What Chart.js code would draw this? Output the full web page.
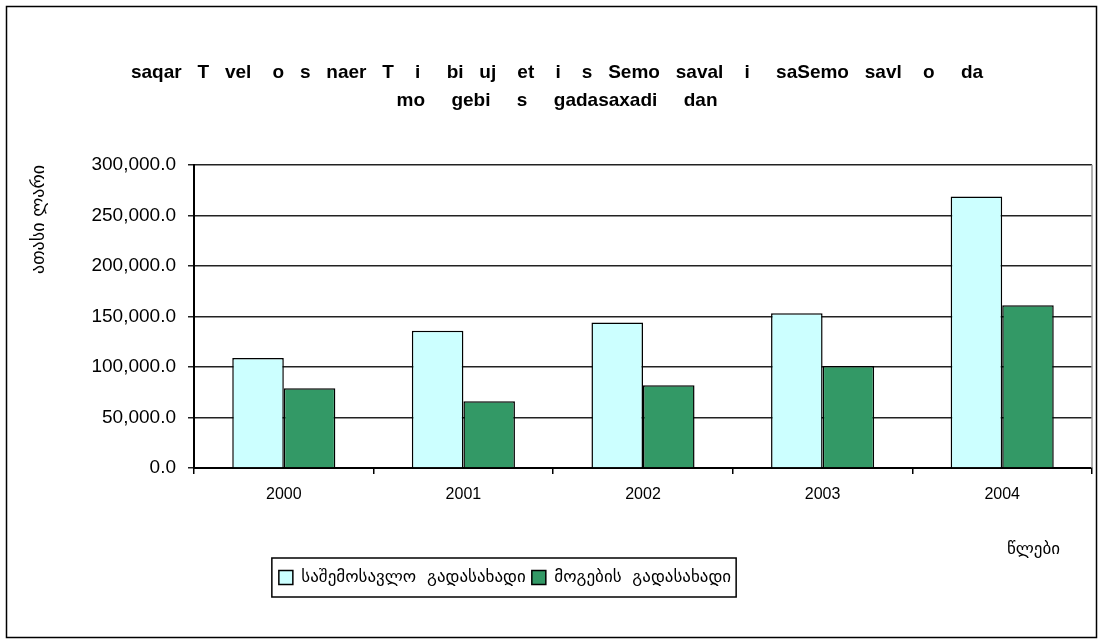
<!DOCTYPE html>
<html>
<head>
<meta charset="utf-8">
<script src="https://cdn.jsdelivr.net/npm/chart.js@4.4.0/dist/chart.umd.min.js"></script>
<style>
  html, body { margin: 0; padding: 0; background: #fff; }
  #wrap { width: 1103px; height: 644px; position: relative; }
</style>
</head>
<body>
<div id="wrap"><canvas id="chart"></canvas></div>
<script>
// ======= DATA =======
const YEARS = ["2000", "2001", "2002", "2003", "2004"];
const INCOME_TAX = [108800, 135900, 144000, 153200, 268800];   // saSemosavlo gadasaxadi
const PROFIT_TAX = [79000, 66000, 82000, 101000, 161000];      // mogebis gadasaxadi
const SERIES_NAMES = ["საშემოსავლო  გადასახადი", "მოგების  გადასახადი"];
const TITLE_LINES = [
  "saqar   T   vel    o   s   naer   T    i     bi   uj    et    i    s   Semo   saval    i     saSemo   savl    o     da",
  "mo     gebi     s     gadasaxadi     dan"
];
const Y_TITLE = "ათასი ლარი";
const X_TITLE = "წლები";

const GEO_FONT = "'DejaVu Sans', sans-serif";
const LAT_FONT = "'Liberation Sans', Arial, sans-serif";

// ======= DECOR: bg, outer frame, plot right edge, legend frame, x title =======
const decor = {
  id: "decor",
  beforeDraw(chart){
    const c = chart.ctx;
    c.save();
    c.fillStyle = "#fff";
    c.fillRect(0, 0, chart.width, chart.height);
    c.restore();
  },
  afterLayout(chart){
    // legend sits a bit left of centre in the original
    const lg = chart.legend;
    lg.left -= 52; lg.right -= 52;
  },
  afterDraw(chart){
    const c = chart.ctx, a = chart.chartArea;
    c.save();
    c.strokeStyle = "#000"; c.lineWidth = 1.5;
    c.strokeRect(6.5, 6.5, chart.width - 13, chart.height - 13);
    c.strokeStyle = "#999"; c.lineWidth = 1.5;
    c.beginPath(); c.moveTo(a.right, a.top); c.lineTo(a.right, a.bottom); c.stroke();
    const boxes = chart.legend.legendHitBoxes;
    if(boxes && boxes.length){
      let l = Infinity, r = -Infinity, t = Infinity, b = -Infinity;
      boxes.forEach(h => { l = Math.min(l, h.left); r = Math.max(r, h.left + h.width); t = Math.min(t, h.top); b = Math.max(b, h.top + h.height); });
      c.strokeStyle = "#000"; c.lineWidth = 1.5;
      c.strokeRect(l - 7, t - 11, r - l + 12, b - t + 22);
    }
    c.fillStyle = "#000";
    c.font = "17px " + GEO_FONT;
    c.textAlign = "right"; c.textBaseline = "middle";
    c.fillText(X_TITLE, a.right - 32, a.bottom + 82);
    c.restore();
  }
};

new Chart(document.getElementById("chart"), {
  type: "bar",
  data: {
    labels: YEARS,
    datasets: [
      { label: SERIES_NAMES[0], data: INCOME_TAX, backgroundColor: "#CCFFFF", borderColor: "#000", borderWidth: 1.5 },
      { label: SERIES_NAMES[1], data: PROFIT_TAX, backgroundColor: "#339966", borderColor: "#000", borderWidth: 1.5 }
    ]
  },
  options: {
    responsive: true,
    maintainAspectRatio: false,
    animation: false,
    datasets: { bar: { categoryPercentage: 0.574, barPercentage: 1.0 } },
    layout: { padding: { left: 22, right: 11, top: 6, bottom: 48 } },
    plugins: {
      tooltip: { enabled: false },
      title: {
        display: true,
        text: TITLE_LINES,
        color: "#000",
        font: { family: LAT_FONT, size: 19, weight: "bold", lineHeight: 1.47 },
        padding: { top: 53, bottom: 50 }
      },
      legend: {
        position: "bottom",
        labels: {
          color: "#000",
          font: { family: GEO_FONT, size: 17 },
          boxWidth: 14, boxHeight: 14,
          padding: 6
        }
      }
    },
    scales: {
      x: {
        grid: { drawOnChartArea: false, drawTicks: true, tickLength: 6, color: "#000", lineWidth: 1.5 },
        border: { color: "#000", width: 2 },
        ticks: { color: "#000", font: { family: LAT_FONT, size: 16 }, padding: 11 },
        afterFit(s){ s.height = 95; }
      },
      y: {
        min: 0, max: 300000,
        ticks: {
          stepSize: 50000,
          color: "#000",
          font: { family: LAT_FONT, size: 19 },
          padding: 12,
          callback: v => v.toLocaleString("en-US", { minimumFractionDigits: 1, maximumFractionDigits: 1 })
        },
        grid: { color: "#222", lineWidth: 1.5, tickLength: 6 },
        border: { color: "#000", width: 2 },
        title: {
          display: true, text: Y_TITLE, align: "end",
          color: "#000", font: { family: GEO_FONT, size: 18 }, padding: { top: 7, bottom: 0 }
        },
        afterFit(s){ s.width = 172; }
      }
    }
  },
  plugins: [decor]
});
</script>
</body>
</html>
